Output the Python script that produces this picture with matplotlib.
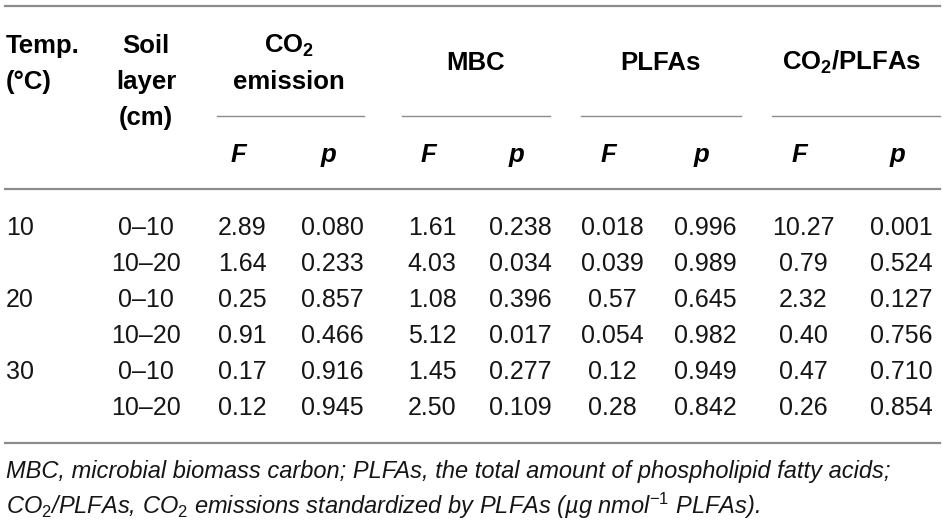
import matplotlib
matplotlib.use("Agg")
import matplotlib.pyplot as plt

# table data
temps = ["10", "", "20", "", "30", ""]
layers = ["0–10", "10–20", "0–10", "10–20", "0–10", "10–20"]
co2_f = ["2.89", "1.64", "0.25", "0.91", "0.17", "0.12"]
co2_p = ["0.080", "0.233", "0.857", "0.466", "0.916", "0.945"]
mbc_f = ["1.61", "4.03", "1.08", "5.12", "1.45", "2.50"]
mbc_p = ["0.238", "0.034", "0.396", "0.017", "0.277", "0.109"]
plfa_f = ["0.018", "0.039", "0.57", "0.054", "0.12", "0.28"]
plfa_p = ["0.996", "0.989", "0.645", "0.982", "0.949", "0.842"]
ratio_f = ["10.27", "0.79", "2.32", "0.40", "0.47", "0.26"]
ratio_p = ["0.001", "0.524", "0.127", "0.756", "0.710", "0.854"]

groups = ["MBC", "PLFAs", "CO$_\\mathbf{2}$/PLFAs"]
footnote = [
    "MBC, microbial biomass carbon; PLFAs, the total amount of phospholipid fatty acids;",
    "CO$_\\mathit{2}$/PLFAs, CO$_\\mathit{2}$ emissions standardized by PLFAs "
    "(µg nmol$^\\mathit{-1}$ PLFAs).",
]

plt.rcParams["font.family"] = ["Liberation Sans", "DejaVu Sans"]
plt.rcParams["mathtext.fontset"] = "custom"
plt.rcParams["mathtext.rm"] = "Liberation Sans"
plt.rcParams["mathtext.it"] = "Liberation Sans:italic"
plt.rcParams["mathtext.bf"] = "Liberation Sans:bold"

W, H = 945, 526
fig = plt.figure(figsize=(W / 100, H / 100), dpi=100)
ax = fig.add_axes([0, 0, 1, 1])
ax.set_xlim(0, W)
ax.set_ylim(H, 0)
ax.axis("off")

rule = "#8c8c8c"
ink = "#151515"
fs = 18
bfs = 18.5


def head(x, y, s, ha="center"):
    ax.text(x, y, s, ha=ha, va="baseline", fontsize=bfs, fontweight="bold",
            color="black")


# horizontal rules
ax.plot([5, 940], [6, 6], color=rule, lw=1.6)
ax.plot([5, 940], [189, 189], color=rule, lw=1.6)
ax.plot([5, 940], [443, 443], color=rule, lw=1.6)
spans = [(217, 364), (402, 550), (581, 741), (772, 940)]
for x0, x1 in spans:
    ax.plot([x0, x1], [116, 116], color=rule, lw=1.0)

# header
head(6, 53, "Temp.", ha="left")
head(6, 89, "(°C)", ha="left")
head(146, 53, "Soil")
head(146, 89, "layer")
head(146, 125, "(cm)")
head(289, 53, "CO$_\\mathbf{2}$")
head(289, 89, "emission")
for name, x in zip(groups, [476, 660, 852]):
    head(x, 70, name)

cols = [co2_f, co2_p, mbc_f, mbc_p, plfa_f, plfa_p, ratio_f, ratio_p]
col_x = [242, 332, 432, 520, 612, 705, 803, 901]
for i, x in enumerate(col_x):
    ax.text(x - 4, 162, "F" if i % 2 == 0 else "p", ha="center", va="baseline",
            fontsize=bfs, fontweight="bold", style="italic", color="black")

# body
row_y = [235 + 36 * k for k in range(len(layers))]
for k, y in enumerate(row_y):
    ax.text(6, y, temps[k], ha="left", va="baseline", fontsize=fs, color=ink)
    ax.text(146, y, layers[k], ha="center", va="baseline", fontsize=fs, color=ink)
    for col, x in zip(cols, col_x):
        ax.text(x, y, col[k], ha="center", va="baseline", fontsize=fs, color=ink)

# footnote
for line, y in zip(footnote, [478, 514]):
    ax.text(6, y, line, ha="left", va="baseline", fontsize=17, style="italic",
            color=ink)

fig.savefig("out.png", dpi=100)
